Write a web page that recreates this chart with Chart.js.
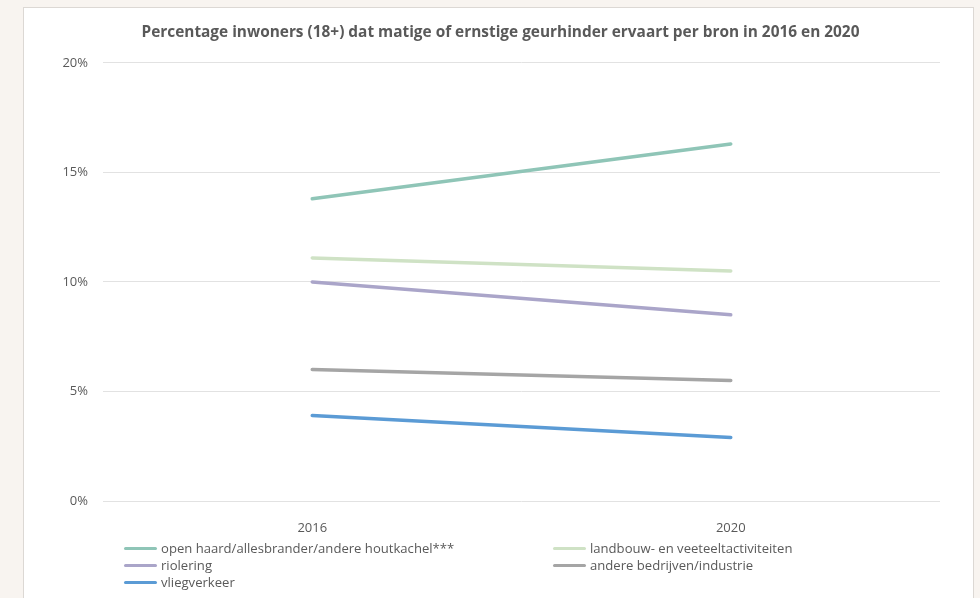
<!DOCTYPE html>
<html>
<head>
<meta charset="utf-8">
<script src="https://cdn.jsdelivr.net/npm/chart.js@4"></script>
<style>
  html, body { margin: 0; padding: 0; background: #f8f4f0; }
  body { width: 980px; height: 598px; position: relative; overflow: hidden; font-family: "Open Sans", sans-serif; }
  #frame { position: absolute; left: 23px; top: 7px; width: 951px; height: 600px; background: #fff; border: 1px solid #dcd8d4; box-sizing: border-box; }
  #wrap { position: absolute; left: 0; top: 0; width: 980px; height: 598px; }
  #legend { position: absolute; left: 0; top: 0; width: 980px; height: 598px; pointer-events: none; }
  .item { position: absolute; display: flex; align-items: center; font-size: 13.1px; color: #595959; line-height: 17px; white-space: nowrap; }
  .item span.swatch { display: inline-block; width: 33px; height: 3px; border-radius: 2px; margin-right: 4px; }
</style>
</head>
<body>
<div id="frame"></div>
<div id="wrap"><canvas id="chart" width="980" height="598"></canvas></div>
<div id="legend"></div>
<script>
const years = ['2016', '2020'];
const sources = [
  'open haard/allesbrander/andere houtkachel***',
  'landbouw- en veeteeltactiviteiten',
  'riolering',
  'andere bedrijven/industrie',
  'vliegverkeer'
];
const openHaard = [13.8, 16.3];
const landbouw = [11.1, 10.5];
const riolering = [10.0, 8.5];
const bedrijven = [6.0, 5.5];
const vliegverkeer = [3.9, 2.9];
const yTicks = [0, 5, 10, 15, 20];
const colors = ['#8fc5b7', '#cfe2c5', '#aaa5c9', '#a5a5a5', '#5b9bd5'];

const values = [openHaard, landbouw, riolering, bedrijven, vliegverkeer];
const textColor = '#595959';

const ctx = document.querySelector('#chart').getContext('2d');
const myChart = new Chart(ctx, {
  type: 'line',
  data: {
    labels: years,
    datasets: sources.map((name, i) => ({
      label: name,
      data: values[i],
      borderColor: colors[i],
      backgroundColor: colors[i],
      borderWidth: 3.5,
      borderCapStyle: 'round',
      pointRadius: 0,
      tension: 0
    }))
  },
  options: {
    responsive: false,
    animation: false,
    layout: { padding: { top: 0, right: 40, bottom: 0, left: 61 } },
    plugins: {
      legend: { display: false },
      tooltip: { enabled: false },
      title: {
        display: true,
        text: 'Percentage inwoners (18+) dat matige of ernstige geurhinder ervaart per bron in 2016 en 2020',
        color: textColor,
        font: { family: 'Open Sans', size: 15.4, weight: 'bold', lineHeight: 1.2 },
        padding: { top: 23, bottom: 21.5 }
      }
    },
    scales: {
      x: {
        offset: true,
        grid: { display: false },
        border: { display: false },
        ticks: { color: textColor, font: { family: 'Open Sans', size: 13 }, padding: 11 },
        afterFit: scale => { scale.height = 97; }
      },
      y: {
        min: 0,
        max: 20,
        afterBuildTicks: scale => { scale.ticks = yTicks.map(v => ({ value: v })); },
        grid: { color: '#e2e2e2', lineWidth: 1, drawTicks: false },
        border: { display: false },
        ticks: {
          color: textColor,
          font: { family: 'Open Sans', size: 13 },
          padding: 15,
          callback: v => v + '%'
        },
        afterFit: scale => { scale.width = 42; }
      }
    }
  }
});

// legend in two columns like the original
const legend = document.getElementById('legend');
const legendPos = [
  { left: 124, top: 540 },
  { left: 553, top: 540 },
  { left: 124, top: 557 },
  { left: 553, top: 557 },
  { left: 124, top: 574 }
];
sources.forEach((name, i) => {
  const el = document.createElement('div');
  el.className = 'item';
  el.style.left = legendPos[i].left + 'px';
  el.style.top = legendPos[i].top + 'px';
  el.innerHTML = `<span class="swatch" style="background:${colors[i]}"></span>${name}`;
  legend.appendChild(el);
});
</script>
</body>
</html>
